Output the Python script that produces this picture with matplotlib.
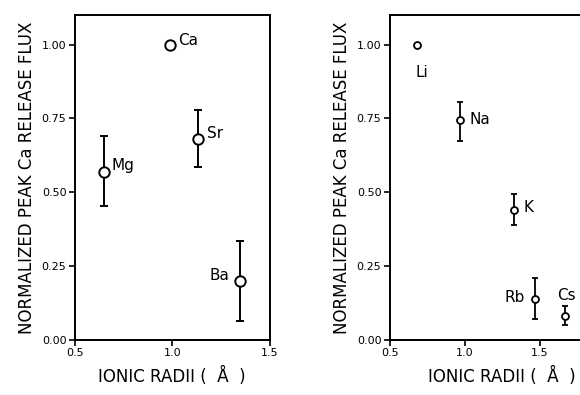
import numpy as np
import matplotlib.pyplot as plt

# divalent cations (left panel)
div_names = ['Mg', 'Ca', 'Sr', 'Ba']
div_radii = [0.65, 0.99, 1.13, 1.35]
div_flux = [0.57, 1.00, 0.68, 0.20]
div_err_lo = [0.115, 0.0, 0.095, 0.135]
div_err_hi = [0.12, 0.0, 0.10, 0.135]

# monovalent cations (right panel)
mono_names = ['Li', 'Na', 'K', 'Rb', 'Cs']
mono_radii = [0.68, 0.97, 1.33, 1.47, 1.67]
mono_flux = [1.00, 0.745, 0.44, 0.14, 0.08]
mono_err_lo = [0.0, 0.07, 0.05, 0.07, 0.03]
mono_err_hi = [0.0, 0.06, 0.055, 0.07, 0.035]

yticks = [0.0, 0.25, 0.5, 0.75, 1.0]
ytick_labels = ['0.00', '0.25', '0.50', '0.75', '1.00']

plt.rcParams['font.family'] = 'DejaVu Sans'

fig = plt.figure(figsize=(5.8, 3.95), dpi=100)
ax1 = fig.add_axes([0.129, 0.139, 0.336, 0.823])
ax2 = fig.add_axes([0.672, 0.139, 0.388, 0.823])

ylab = 'NORMALIZED PEAK Ca RELEASE FLUX'
xlab = 'IONIC RADII (  Å  )'


def style(ax, xlim, xticks, xticklabels):
    ax.set_xlim(*xlim)
    ax.set_ylim(0, 1.10)
    ax.set_xticks(xticks)
    ax.set_xticklabels(xticklabels)
    ax.set_yticks(yticks)
    ax.set_yticklabels(ytick_labels)
    ax.tick_params(direction='out', length=4, width=1.2, labelsize=8,
                   color='black', pad=2)
    for s in ax.spines.values():
        s.set_linewidth(1.4)
    ax.set_ylabel(ylab, fontsize=12, labelpad=4)
    ax.set_xlabel(xlab, fontsize=12, labelpad=6)


# left panel
ax1.errorbar(div_radii, div_flux, yerr=[div_err_lo, div_err_hi], fmt='o',
             ms=7.5, mfc='white', mec='black', mew=1.4, ecolor='black',
             elinewidth=1.4, capsize=3, capthick=1.4)
offsets1 = [(0.04, 0.02, 'left'), (0.04, 0.015, 'left'),
            (0.05, 0.02, 'left'), (-0.055, 0.02, 'right')]
for n, x, y, (dx, dy, ha) in zip(div_names, div_radii, div_flux, offsets1):
    ax1.text(x + dx, y + dy, n, fontsize=11, ha=ha, va='center')
style(ax1, (0.5, 1.5), [0.5, 1.0, 1.5], ['0.5', '1.0', '1.5'])

# right panel
ax2.errorbar(mono_radii, mono_flux, yerr=[mono_err_lo, mono_err_hi],
             fmt='o', ms=5, mfc='white', mec='black', mew=1.3,
             ecolor='black', elinewidth=1.3, capsize=2.5, capthick=1.3)
offsets2 = [(0.035, -0.095, 'center'), (0.06, 0.0, 'left'),
            (0.06, 0.01, 'left'), (-0.07, 0.005, 'right'),
            (0.01, 0.07, 'center')]
for n, x, y, (dx, dy, ha) in zip(mono_names, mono_radii, mono_flux,
                                 offsets2):
    ax2.text(x + dx, y + dy, n, fontsize=11, ha=ha, va='center')
style(ax2, (0.5, 2.0), [0.5, 1.0, 1.5], ['0.5', '1.0', '1.5'])

fig.savefig('out.png', dpi=100)
